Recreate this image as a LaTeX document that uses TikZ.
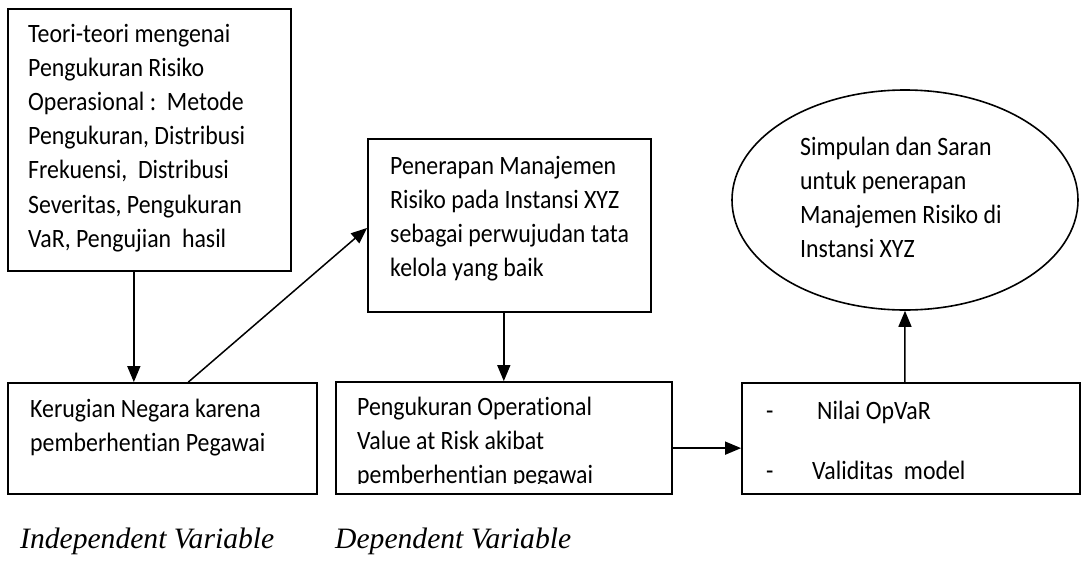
\documentclass[tikz,border=0pt]{standalone}
\usepackage{fontspec}
\setmainfont[FakeStretch=0.9,Ligatures=NoCommon]{Carlito}
\newfontfamily\serifit{Liberation Serif}
\usetikzlibrary{arrows.meta,shapes.geometric,calc}
\begin{document}
\begin{tikzpicture}[x=1pt,y=-1pt,
  frame/.style={draw,line width=1.8pt,rectangle,inner sep=0pt},
  oval/.style={draw,line width=1.6pt,ellipse,inner sep=0pt},
  link/.style={line width=1.5pt,-{Triangle[length=16pt,width=13pt]}},
  txt/.style={anchor=base west,inner sep=0pt,font=\fontsize{26.5}{34.2}\selectfont},
  caption/.style={anchor=base west,inner sep=0pt,font=\serifit\itshape\fontsize{29.6}{29.6}\selectfont},
]
\useasboundingbox (0,0) rectangle (1089,576);

% boxes
\node[frame,minimum width=283pt,minimum height=262pt] (teori) at (149.5,140) {};
\node[frame,minimum width=283pt,minimum height=173pt] (penerapan) at (509.5,225.5) {};
\node[frame,minimum width=309pt,minimum height=111pt] (kerugian) at (162.5,438.5) {};
\node[frame,minimum width=336pt,minimum height=112pt] (pengukuran) at (504,438) {};
\node[frame,minimum width=338pt,minimum height=111pt] (hasil) at (911,438.5) {};
\node[oval,minimum width=346pt,minimum height=220pt] (simpulan) at (905,200) {};

% texts
\node[txt] (teoriT) at (28,42) {\parbox[t]{262pt}{\raggedright
  Teori-teori mengenai\\
  Pengukuran Risiko\\
  Operasional :\ \ Metode\\
  Pengukuran, Distribusi\\
  Frekuensi,\ \ Distribusi\\
  Severitas, Pengukuran\\
  VaR, Pengujian\ \ hasil}};
\node[txt] (penerapanT) at (390,174) {\parbox[t]{258pt}{\raggedright
  Penerapan Manajemen\\
  Risiko pada Instansi XYZ\\
  sebagai perwujudan tata\\
  kelola yang baik}};
\node[txt] (kerugianT) at (30,417) {\parbox[t]{285pt}{\raggedright
  Kerugian Negara karena\\
  pemberhentian Pegawai}};
\begin{scope}
  \clip (336,382) rectangle (672,483);
  \node[txt] (pengukuranT) at (357,415) {\parbox[t]{310pt}{\raggedright
    Pengukuran Operational\\
    Value at Risk akibat\\
    pemberhentian pegawai}};
\end{scope}
\node[txt] (dash1) at (766,419) {-};
\node[txt] (dash2) at (766,479) {-};
\node[txt] (nilai) at (817,419) {Nilai OpVaR};
\node[txt] (validitas) at (812,479) {Validitas\ \ model};
\node[txt] (simpulanT) at (800,155) {\parbox[t]{240pt}{\raggedright
  Simpulan dan Saran\\
  untuk penerapan\\
  Manajemen Risiko di\\
  Instansi XYZ}};

% captions
\node[caption] (indep) at (20,548) {Independent Variable};
\node[caption] (dep) at (335,548) {Dependent Variable};

% connectors
\coordinate (a1) at ($(teori.south west)!0.445!(teori.south east)$);
\draw[link] (a1) -- (a1 |- kerugian.north);
\coordinate (b1) at ($(kerugian.north west)!0.583!(kerugian.north east)$);
\coordinate (b2) at ($(penerapan.north west)!0.514!(penerapan.south west)$);
\draw[link] (b1) -- (b2);
\coordinate (c1) at ($(penerapan.south west)!0.48!(penerapan.south east)$);
\draw[link] (c1) -- (c1 |- pengukuran.north);
\coordinate (d1) at ($(pengukuran.north east)!0.589!(pengukuran.south east)$);
\draw[link] (d1) -- (d1 -| hasil.west);
\coordinate (e1) at ($(hasil.north west)!0.482!(hasil.north east)$);
\draw[link] (e1) -- (simpulan.south);
\end{tikzpicture}
\end{document}
